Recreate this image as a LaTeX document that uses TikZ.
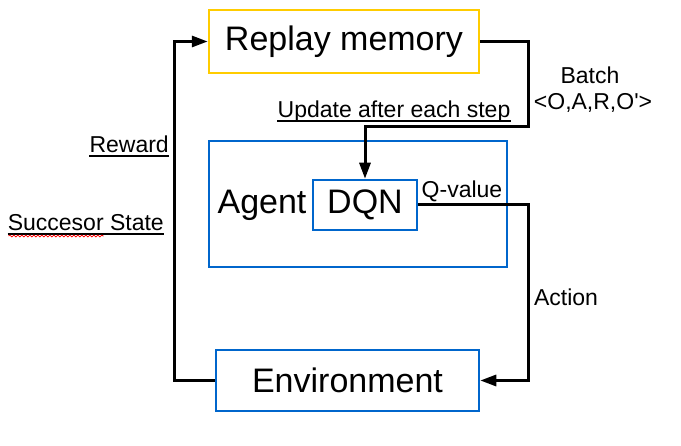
\documentclass[tikz,border=0pt]{standalone}
\usepackage{fontspec}
\setmainfont{Liberation Sans}[Ligatures=TeXOff]
\usetikzlibrary{arrows.meta,decorations.pathmorphing}
\definecolor{memyellow}{RGB}{255,204,0}
\definecolor{boxblue}{RGB}{0,102,204}
\def\underlinenode(#1){\draw[line width=1.3pt] ([yshift=-3pt]#1.base west) -- ([yshift=-3pt]#1.base east);}

\begin{document}
\begin{tikzpicture}[x=1pt,y=-1pt,
	bigtext/.style={font=\fontsize{34}{40}\selectfont},
	smalltext/.style={font=\fontsize{23}{27}\selectfont,inner xsep=0pt},
	box/.style={draw=boxblue,line width=2.5pt,inner sep=0pt},
	link/.style={line width=3pt,-{Triangle[length=16pt,width=11pt]}}]
			%%%%% START %%%%%
			\def\railx{528}
			\def\leftx{174}
			\useasboundingbox (0,0) rectangle (681,446);

			\node[box,draw=memyellow,minimum width=270pt,minimum height=63pt,bigtext] (replay) at (344,41.5) {Replay memory};
			\node[box,minimum width=298pt,minimum height=126pt] (agent) at (358,204) {};
			\node[bigtext] (agentlbl) at (262,205) {Agent};
			\node[box,minimum width=104pt,minimum height=50pt,bigtext] (dqn) at (365,205) {DQN};
			\node[box,minimum width=263pt,minimum height=61pt,bigtext] (env) at (347.5,380.5) {Environment};

			\node[smalltext,anchor=base] (update) at (394,118) {Update after each step};
			\node[smalltext,anchor=base] (batch) at (590,84) {Batch};
			\node[smalltext,anchor=base] (tuple) at (593,110) {<O,A,R,O'>};
			\node[smalltext,anchor=base] (qval) at (462,198) {Q-value};
			\node[smalltext,anchor=base] (action) at (566,306) {Action};
			\node[smalltext,anchor=base east] (reward) at (169,153) {Reward};
			\node[smalltext,anchor=base east] (succ) at (164,231) {Succesor State};
			\underlinenode(update)
			\underlinenode(reward)
			\underlinenode(succ)
			\draw[red,line width=0.8pt,decorate,decoration={snake,amplitude=0.9pt,segment length=4pt}]
				([xshift=1pt,yshift=-5pt]succ.base west) -- ([xshift=96pt,yshift=-5pt]succ.base west);

			\coordinate (batchbend) at (\railx,127);
			\coordinate (actbend) at (\railx,300);
			\coordinate (leftbend) at (\leftx,200);

			\draw[link] (replay.east) -| (batchbend) -| (dqn.north);
			\draw[link] (dqn.east) -| (actbend) |- (env.east);
			\draw[link] (env.west) -| (leftbend) |- (replay.west);
			%%%%% END %%%%%
\end{tikzpicture}
\end{document}
